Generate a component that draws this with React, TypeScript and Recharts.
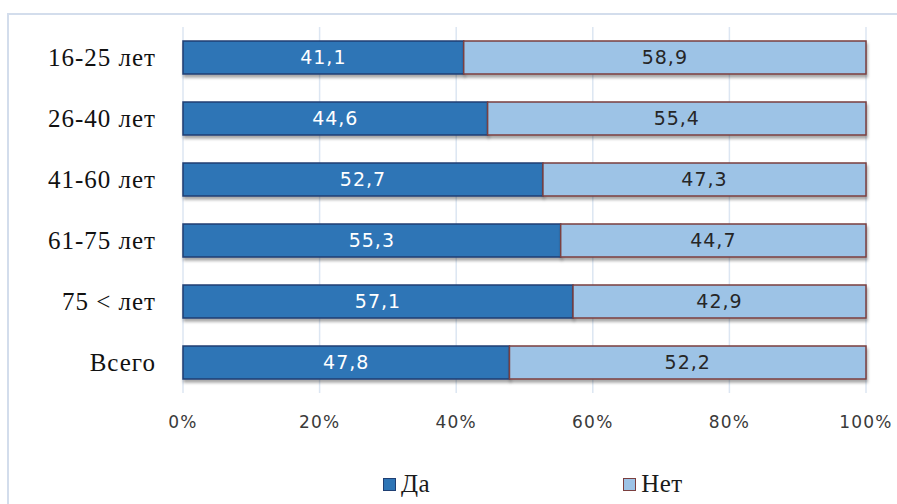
import {
  BarChart,
  Bar,
  XAxis,
  YAxis,
  CartesianGrid,
  Legend,
  LabelList,
  Rectangle,
} from 'recharts';

const ageGroups = ['16-25 лет', '26-40 лет', '41-60 лет', '61-75 лет', '75 < лет', 'Всего'];
const yesShare = [41.1, 44.6, 52.7, 55.3, 57.1, 47.8];
const noShare = [58.9, 55.4, 47.3, 44.7, 42.9, 52.2];
const percentTicks = [0, 20, 40, 60, 80, 100];

const seriesNames = { yes: 'Да', no: 'Нет' };

const data = ageGroups.map((name, i) => ({
  name,
  yes: yesShare[i],
  no: noShare[i],
}));

const YES_FILL = '#2e75b6';
const YES_STROKE = '#1f3f73';
const NO_FILL = '#9dc3e6';
const NO_STROKE = '#7b3f3f';

const fmt = (v: any) => Number(v).toFixed(1).replace('.', ',');

const ShadowBar = (props: any) => <Rectangle {...props} filter="url(#barShadow)" />;

function LegendContent() {
  const items = [
    { label: seriesNames.yes, fill: YES_FILL, stroke: YES_STROKE, gap: 383 },
    { label: seriesNames.no, fill: NO_FILL, stroke: NO_STROKE, gap: 193 },
  ];
  return (
    <div style={{ display: 'flex', alignItems: 'center', paddingTop: 34, lineHeight: '26px' }}>
      {items.map((it) => (
        <div key={it.label} style={{ display: 'flex', alignItems: 'center', marginLeft: it.gap }}>
          <span
            style={{
              display: 'inline-block',
              width: 11,
              height: 11,
              background: it.fill,
              border: `1.5px solid ${it.stroke}`,
              marginRight: 5,
            }}
          />
          <span style={{ fontFamily: 'Liberation Serif', fontSize: 25, color: '#1a1a1a', letterSpacing: 0.5 }}>
            {it.label}
          </span>
        </div>
      ))}
    </div>
  );
}

export default function App() {
  return (
    <div style={{ position: 'fixed', left: 0, top: 0, width: 897, height: 504, overflow: 'hidden', background: '#fff' }}>
      <svg width={0} height={0} style={{ position: 'absolute' }}>
        <defs>
          <filter id="barShadow" x="-5%" y="-20%" width="110%" height="160%">
            <feDropShadow dx={1} dy={3} stdDeviation={1.6} floodColor="#000" floodOpacity={0.35} />
          </filter>
        </defs>
      </svg>
      <div
        style={{
          position: 'absolute',
          left: 7,
          top: 13,
          width: 1000,
          height: 600,
          border: '2px solid #d3ddec',
        }}
      />
      <div style={{ position: 'absolute', left: 0, top: 0 }}>
        <BarChart
          width={897}
          height={504}
          data={data}
          layout="vertical"
          margin={{ top: 27, right: 31, left: 0, bottom: 6 }}
          barSize={33}
        >
          <CartesianGrid horizontal={false} stroke="#dce6f2" strokeWidth={1.5} />
          <XAxis
            type="number"
            domain={[0, 100]}
            ticks={percentTicks}
            tickFormatter={(v) => `${v}%`}
            axisLine={false}
            tickLine={false}
            tickSize={0}
            tickMargin={23}
            height={44}
            tick={{ fontFamily: 'DejaVu Sans', fontSize: 17, fill: '#3a3a3a', letterSpacing: 1.2 }}
          />
          <YAxis
            type="category"
            dataKey="name"
            width={183}
            axisLine={false}
            tickLine={false}
            tickSize={0}
            tickMargin={27}
            tick={{ fontFamily: 'Liberation Serif', fontSize: 25, fill: '#111', letterSpacing: 1 }}
          />
          <Legend
            verticalAlign="bottom"
            content={<LegendContent />}
            wrapperStyle={{ left: 0, width: 897, height: 61 }}
          />
          <Bar
            dataKey="yes"
            name={seriesNames.yes}
            stackId="a"
            fill={YES_FILL}
            stroke={YES_STROKE}
            strokeWidth={1.5}
            shape={ShadowBar}
            isAnimationActive={false}
          >
            <LabelList
              dataKey="yes"
              position="center"
              formatter={fmt}
              style={{ fontFamily: 'DejaVu Sans', fontSize: 19, fill: '#ffffff', letterSpacing: 1 }}
            />
          </Bar>
          <Bar
            dataKey="no"
            name={seriesNames.no}
            stackId="a"
            fill={NO_FILL}
            stroke={NO_STROKE}
            strokeWidth={1.5}
            shape={ShadowBar}
            isAnimationActive={false}
          >
            <LabelList
              dataKey="no"
              position="center"
              formatter={fmt}
              style={{ fontFamily: 'DejaVu Sans', fontSize: 19, fill: '#262626', letterSpacing: 1 }}
            />
          </Bar>
        </BarChart>
      </div>
    </div>
  );
}
